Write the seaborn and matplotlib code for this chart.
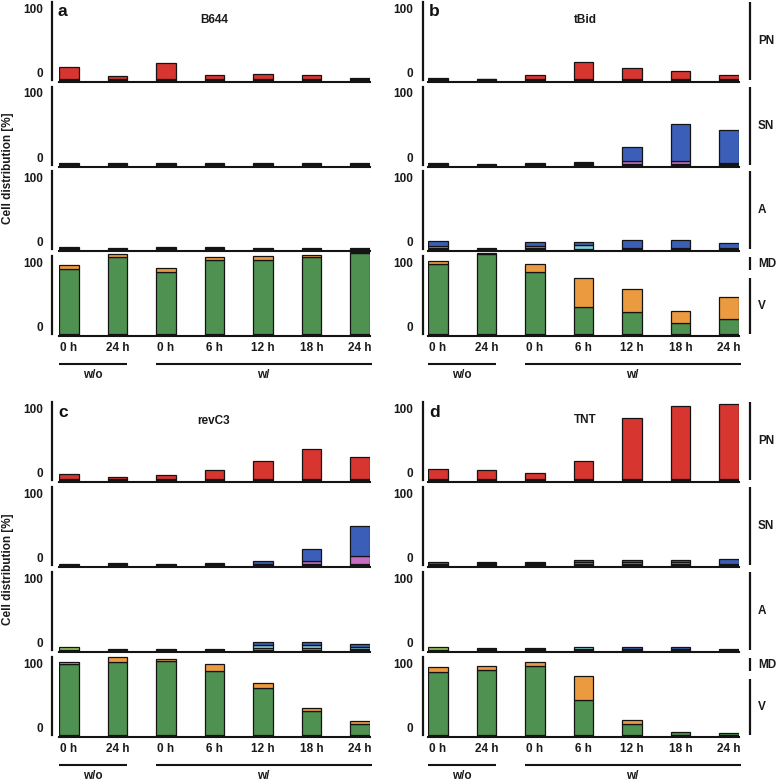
import numpy as np
import pandas as pd
import matplotlib
matplotlib.use("Agg")
import matplotlib.pyplot as plt
import seaborn as sns
from matplotlib.transforms import blended_transform_factory, offset_copy

# ---------------- data (segment heights) ----------------
timepoints = ["0 h", "24 h", "0 h", "6 h", "12 h", "18 h", "24 h"]
treatment_groups = ["w/o", "w/"]
row_names = ["PN", "SN", "A", "V"]
panel_titles = ["B644", "tBid", "revC3", "TNT"]
panel_letters = ["a", "b", "c", "d"]

# panel a : B644
b644_pn_base = [4, 4, 4, 4, 4, 4, 4]
b644_pn_red = [19, 5.3, 25.5, 6.9, 8.4, 6.4, 2]
b644_sn_base = [5, 5.5, 5, 5.5, 5, 5, 5]
b644_sn_magenta = [0, 0, 0, 0, 0, 0, 0]
b644_sn_blue = [0, 0, 0, 0, 0, 0, 0]
b644_a_base = [6, 5, 5.5, 5.5, 5, 5, 5]
b644_a_lime = [0, 0, 0, 0, 0, 0, 0]
b644_a_cyan = [0, 0, 0, 0, 0, 0, 0]
b644_a_blue = [0, 0, 0, 0, 0, 0, 0]
b644_v_base = [3, 3, 3, 3, 3, 3, 3]
b644_v_green = [100.4, 120, 96.7, 114.8, 114.3, 119, 126]
b644_v_orange = [6.6, 4, 5.3, 5.2, 6.7, 3, 2]

# panel b : tBid
tbid_pn_base = [4, 4, 4, 4, 4, 4, 4]
tbid_pn_red = [2.8, 1.3, 6.9, 27, 17, 13, 6.4]
tbid_sn_base = [5, 4, 5, 4, 4, 4, 3.5]
tbid_sn_magenta = [0, 0, 0, 1, 4.5, 4.5, 2.5]
tbid_sn_blue = [0, 0, 0, 2, 22.5, 58, 50]
tbid_a_base = [4, 5, 4, 3, 5, 5, 4]
tbid_a_lime = [3, 0, 3, 0, 0, 0, 0]
tbid_a_cyan = [0, 0, 0, 6.5, 0, 0, 0]
tbid_a_blue = [8.5, 0, 6.5, 4.5, 11.5, 12.5, 8.5]
tbid_v_base = [3, 3, 3, 3, 3, 3, 3]
tbid_v_green = [108, 124, 95.7, 42, 34.7, 17.2, 23.4]
tbid_v_orange = [5, 1.5, 13.3, 45.4, 34.7, 19, 33.6]

# panel c : revC3
revc3_pn_base = [4, 4, 4, 4, 4, 4, 4]
revc3_pn_red = [9, 3.8, 6.4, 14, 28.6, 47.8, 34.8]
revc3_sn_base = [5, 6, 5, 6, 4, 4, 4]
revc3_sn_magenta = [0, 0, 0, 0, 0, 4.7, 12.4]
revc3_sn_blue = [0, 0, 0, 0, 4.7, 19.3, 47.6]
revc3_a_base = [3, 4.5, 5, 5, 3, 3, 4]
revc3_a_lime = [4.3, 0, 0, 0, 2.5, 2.5, 0]
revc3_a_cyan = [0, 0, 0, 0, 5, 5.5, 4.5]
revc3_a_blue = [0, 0, 0, 0, 5, 4, 4]
revc3_v_base = [3, 3, 3, 3, 3, 3, 3]
revc3_v_green = [109.7, 113.3, 114.8, 99.3, 73, 37.3, 17.8]
revc3_v_orange = [3.6, 7.7, 3.2, 10.4, 7.7, 5.3, 4]

# panel d : TNT
tnt_pn_base = [4, 4, 4, 4, 4, 4, 4]
tnt_pn_red = [16.8, 15.2, 9.5, 29.2, 95.2, 113.8, 117]
tnt_sn_base = [4, 7, 7, 4, 4, 4, 5]
tnt_sn_magenta = [0, 0, 0, 3, 3.5, 3.5, 0]
tnt_sn_blue = [4, 0, 0, 3.4, 3.9, 3.5, 7.4]
tnt_a_base = [3, 6, 6, 4, 4, 4, 4.5]
tnt_a_lime = [4, 0, 0, 0, 0, 0, 0]
tnt_a_cyan = [0, 0, 0, 3, 0, 0, 0]
tnt_a_blue = [0, 0, 0, 0, 4.3, 3, 0]
tnt_v_base = [3, 3, 3, 3, 3, 3, 3]
tnt_v_green = [98.4, 101.5, 107.7, 53.9, 16.7, 4.8, 3.2]
tnt_v_orange = [7.1, 5.1, 5.1, 37.2, 6.2, 0, 0]

# ---------------- style ----------------
C_BLACK = "#141414"
C_TEXT = "#1a1a1a"
C_RED = "#d7352f"
C_BLUE = "#3b5fb8"
C_MAGENTA = "#c76bc4"
C_CYAN = "#80cfd3"
C_LIME = "#8dc152"
C_GREEN = "#4f9150"
C_ORANGE = "#eb9a40"
FS = 8.5

sns.set_theme(style="white")
plt.rcParams["font.family"] = ["Liberation Sans", "DejaVu Sans"]
plt.rcParams["font.weight"] = "bold"
plt.rcParams["axes.labelweight"] = "bold"

W, H = 779, 781
fig = plt.figure(figsize=(W / 100, H / 100), dpi=100)
fig.patch.set_facecolor("white")

PX = 0.645          # pixels per data unit
YMIN, YMAX = -14, 118
AX_H = (YMAX - YMIN) * PX
AX_W = 311
N = len(timepoints)
BW = 0.41


def stacked(ax, segments):
    bottom = np.full(N, float(YMIN))
    for heights, color in segments:
        h = np.asarray(heights, float)
        m = h > 0
        if m.any():
            df = pd.DataFrame({"x": np.arange(N)[m], "y": h[m]})
            sns.barplot(data=df, x="x", y="y", order=list(range(N)), orient="x",
                        color=color, saturation=1, width=BW, errorbar=None,
                        edgecolor=C_BLACK, linewidth=0.9, bottom=bottom[m], ax=ax)
        bottom = bottom + h


panels = [
    dict(left=59, baselines=[82, 166.5, 251, 336], spine_off=5.0, pad=6.5, right=False,
         rows=[[(b644_pn_base, C_BLACK), (b644_pn_red, C_RED)],
               [(b644_sn_base, C_BLACK), (b644_sn_magenta, C_MAGENTA), (b644_sn_blue, C_BLUE)],
               [(b644_a_base, C_BLACK), (b644_a_lime, C_LIME), (b644_a_cyan, C_CYAN), (b644_a_blue, C_BLUE)],
               [(b644_v_base, C_BLACK), (b644_v_green, C_GREEN), (b644_v_orange, C_ORANGE)]],
         letter_xy=(58, 16), title_xy=(214, 20), ylabel_y=168),
    dict(left=428, baselines=[82, 166.5, 251, 336], spine_off=3.3, pad=7.5, right=True,
         rows=[[(tbid_pn_base, C_BLACK), (tbid_pn_red, C_RED)],
               [(tbid_sn_base, C_BLACK), (tbid_sn_magenta, C_MAGENTA), (tbid_sn_blue, C_BLUE)],
               [(tbid_a_base, C_BLACK), (tbid_a_lime, C_LIME), (tbid_a_cyan, C_CYAN), (tbid_a_blue, C_BLUE)],
               [(tbid_v_base, C_BLACK), (tbid_v_green, C_GREEN), (tbid_v_orange, C_ORANGE)]],
         letter_xy=(429, 16), title_xy=(585, 20), ylabel_y=None),
    dict(left=59, baselines=[482, 567, 652, 737], spine_off=5.0, pad=6.5, right=False,
         rows=[[(revc3_pn_base, C_BLACK), (revc3_pn_red, C_RED)],
               [(revc3_sn_base, C_BLACK), (revc3_sn_magenta, C_MAGENTA), (revc3_sn_blue, C_BLUE)],
               [(revc3_a_base, C_BLACK), (revc3_a_lime, C_LIME), (revc3_a_cyan, C_CYAN), (revc3_a_blue, C_BLUE)],
               [(revc3_v_base, C_BLACK), (revc3_v_green, C_GREEN), (revc3_v_orange, C_ORANGE)]],
         letter_xy=(58, 417), title_xy=(214, 421), ylabel_y=569),
    dict(left=428, baselines=[482, 567, 652, 737], spine_off=3.3, pad=7.5, right=True,
         rows=[[(tnt_pn_base, C_BLACK), (tnt_pn_red, C_RED)],
               [(tnt_sn_base, C_BLACK), (tnt_sn_magenta, C_MAGENTA), (tnt_sn_blue, C_BLUE)],
               [(tnt_a_base, C_BLACK), (tnt_a_lime, C_LIME), (tnt_a_cyan, C_CYAN), (tnt_a_blue, C_BLUE)],
               [(tnt_v_base, C_BLACK), (tnt_v_green, C_GREEN), (tnt_v_orange, C_ORANGE)]],
         letter_xy=(429, 417), title_xy=(585, 420), ylabel_y=None),
]

for pi, p in enumerate(panels):
    for ri, B in enumerate(p["baselines"]):
        ax = fig.add_axes([p["left"] / W, 1 - B / H, AX_W / W, AX_H / H])
        stacked(ax, p["rows"][ri])
        ax.set_xlim(-BW / 2, N - 1 + BW / 2)
        ax.set_ylim(YMIN, YMAX)
        ax.patch.set_visible(False)
        ax.grid(False)
        ax.set_xlabel("")
        ax.set_ylabel("")
        ax.set_yticks([0, 100])
        ax.set_yticklabels(["0", "100"])
        ax.tick_params(axis="y", length=0, pad=p["pad"], labelsize=FS, colors=C_TEXT)
        for s in ["top", "right"]:
            ax.spines[s].set_visible(False)
        ax.spines["left"].set_position(("outward", p["spine_off"]))
        ax.spines["left"].set_bounds(-11, 110)
        ax.spines["left"].set_linewidth(1.6)
        ax.spines["left"].set_color(C_BLACK)
        ax.spines["bottom"].set_linewidth(1.5)
        ax.spines["bottom"].set_color(C_BLACK)
        if ri == 3:
            ax.set_xticks(range(N))
            ax.set_xticklabels(timepoints)
            ax.tick_params(axis="x", length=0, pad=4.5, labelsize=FS, colors=C_TEXT)
            xt = ax.get_xaxis_transform()
            line_tr = offset_copy(xt, fig=fig, y=-28, units="dots")
            text_tr = offset_copy(xt, fig=fig, y=-39, units="dots")
            ax.plot([-BW / 2, 1 + BW / 2], [0, 0], color=C_BLACK, lw=1.5,
                    transform=line_tr, clip_on=False, solid_capstyle="butt")
            ax.plot([2 - BW / 2, N - 1 + BW / 2 + 0.05], [0, 0], color=C_BLACK, lw=1.5,
                    transform=line_tr, clip_on=False, solid_capstyle="butt")
            ax.text(0.5, 0, treatment_groups[0], transform=text_tr, ha="center", va="center",
                    fontsize=FS, color=C_TEXT)
            ax.text(4, 0, treatment_groups[1], transform=text_tr, ha="center", va="center",
                    fontsize=FS, color=C_TEXT)
        else:
            ax.set_xticks([])

        if p["right"]:
            bt = blended_transform_factory(ax.transAxes, ax.transData)
            ltr = offset_copy(bt, fig=fig, x=11, units="dots")
            ttr = offset_copy(bt, fig=fig, x=19, units="dots")
            if ri < 3:
                ax.plot([1, 1], [-11, 110], color=C_BLACK, lw=1.6, transform=ltr,
                        clip_on=False, solid_capstyle="butt")
                ax.text(1, 49.5, row_names[ri], transform=ttr, ha="left", va="center",
                        fontsize=FS, color=C_TEXT)
            else:
                ax.plot([1, 1], [88, 108.5], color=C_BLACK, lw=1.6, transform=ltr,
                        clip_on=False, solid_capstyle="butt")
                ax.text(1, 98, "MD", transform=ttr, ha="left", va="center",
                        fontsize=FS, color=C_TEXT)
                ax.plot([1, 1], [-11, 76], color=C_BLACK, lw=1.6, transform=ltr,
                        clip_on=False, solid_capstyle="butt")
                ax.text(1, 32.5, "V", transform=ttr, ha="left", va="center",
                        fontsize=FS, color=C_TEXT)

    lx, ly = p["letter_xy"]
    fig.text(lx / W, 1 - ly / H, panel_letters[pi], ha="left", va="baseline",
             fontsize=12.5, color="#111111")
    tx, ty = p["title_xy"]
    fig.text(tx / W, 1 - ty / H, panel_titles[pi], ha="center", va="center",
             fontsize=FS, color=C_TEXT)
    if p["ylabel_y"] is not None:
        fig.text(8 / W, 1 - p["ylabel_y"] / H, "Cell distribution [%]", rotation=90,
                 ha="center", va="center", fontsize=FS, color=C_TEXT)

fig.savefig("out.png", dpi=100, facecolor="white")
